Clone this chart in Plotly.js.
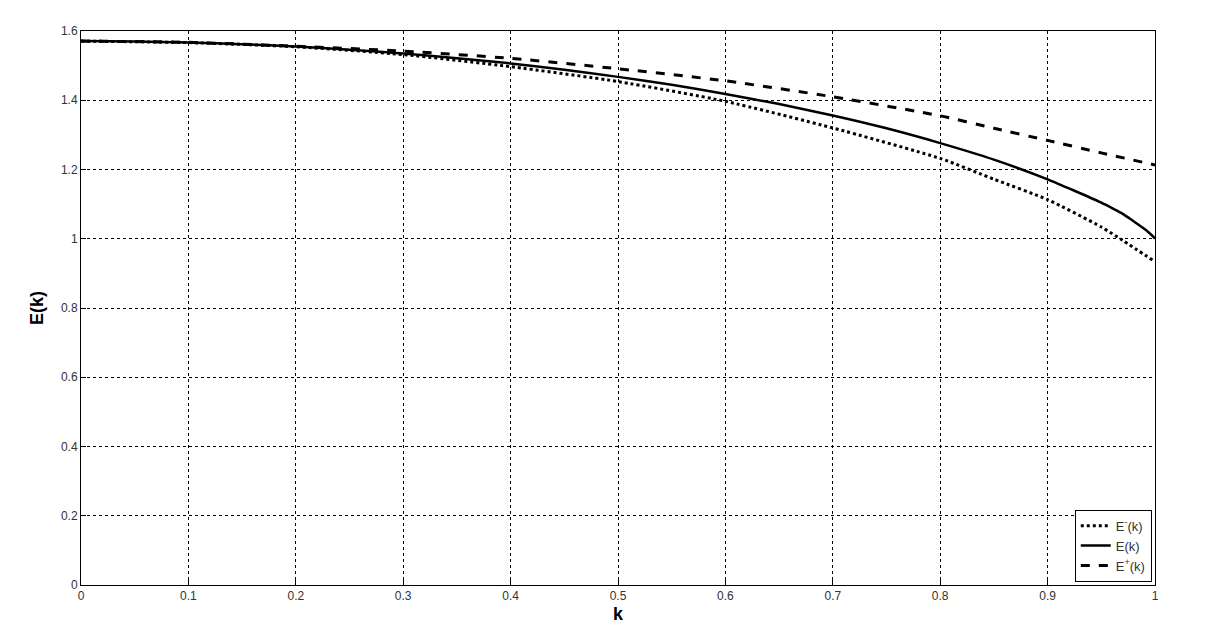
<!DOCTYPE html>
<html>
<head>
<meta charset="utf-8">
<script src="https://cdn.plot.ly/plotly-3.0.1.min.js"></script>
<style>html,body{margin:0;padding:0;background:#fff;}#chart{width:1215px;height:636px;}</style>
</head>
<body>
<div id="chart"></div>
<script>
// k values and series
const kE = [0, 0.05, 0.1, 0.15, 0.2, 0.25, 0.3, 0.35, 0.4, 0.45, 0.5, 0.55, 0.6, 0.65, 0.7, 0.75, 0.8, 0.85, 0.9, 0.925, 0.95, 0.96, 0.97, 0.98, 0.985, 0.99, 0.995, 0.999, 1.0];
const valE = [1.5708, 1.5698, 1.5669, 1.5619, 1.5550, 1.5460, 1.5348, 1.5216, 1.5064, 1.4884, 1.4675, 1.4445, 1.4181, 1.3889, 1.3561, 1.3190, 1.2763, 1.2286, 1.1717, 1.1386, 1.1040, 1.0883, 1.0719, 1.0506, 1.0400, 1.0286, 1.0160, 1.0040, 1.0000];

const kPlus = [0, 0.1, 0.2, 0.3, 0.4, 0.5, 0.6, 0.7, 0.8, 0.85, 0.9, 0.95, 1.0];
const valPlus = [1.5708, 1.5672, 1.5560, 1.5420, 1.5210, 1.4910, 1.4560, 1.4100, 1.3550, 1.3190, 1.2840, 1.2480, 1.2130];

const kMinus = [0, 0.1, 0.2, 0.3, 0.4, 0.5, 0.6, 0.7, 0.8, 0.85, 0.9, 0.95, 0.97, 1.0];
const valMinus = [1.5708, 1.5665, 1.5545, 1.5320, 1.4970, 1.4540, 1.3970, 1.3200, 1.2320, 1.1720, 1.1130, 1.0340, 0.9950, 0.9340];

const xTicks = [0, 0.1, 0.2, 0.3, 0.4, 0.5, 0.6, 0.7, 0.8, 0.9, 1];
const xTickText = ['0', '0.1', '0.2', '0.3', '0.4', '0.5', '0.6', '0.7', '0.8', '0.9', '1'];
const yTicks = [0, 0.2, 0.4, 0.6, 0.8, 1, 1.2, 1.4, 1.6];
const yTickText = ['0', '0.2', '0.4', '0.6', '0.8', '1', '1.2', '1.4', '1.6'];

const traces = [
  {x: kMinus, y: valMinus, mode: 'lines', name: 'E<sup>-</sup>(k)', line: {color: '#000', width: 3, dash: 'dot', shape: 'spline', smoothing: 0.6}},
  {x: kE, y: valE, mode: 'lines', name: 'E(k)', line: {color: '#000', width: 2.5, shape: 'spline', smoothing: 0.6}},
  {x: kPlus, y: valPlus, mode: 'lines', name: 'E<sup>+</sup>(k)', line: {color: '#000', width: 3, dash: 'dash', shape: 'spline', smoothing: 0.6}}
];

const axisCommon = {
  showline: true, linecolor: '#000', linewidth: 1, mirror: true,
  ticks: 'inside', ticklen: 5, tickcolor: '#000',
  showgrid: true, gridcolor: '#000', gridwidth: 1, griddash: '3px,3px',
  tickfont: {family: 'Liberation Sans, Arial, sans-serif', size: 12, color: '#333'},
  zeroline: false
};

const layout = {
  width: 1215, height: 636,
  margin: {l: 81, r: 60, t: 31, b: 51},
  paper_bgcolor: '#fff', plot_bgcolor: '#fff',
  showlegend: true,
  legend: {
    x: 0.997, y: 0.006, xanchor: 'right', yanchor: 'bottom',
    bgcolor: '#fff', bordercolor: '#000', borderwidth: 1,
    font: {family: 'Liberation Sans, Arial, sans-serif', size: 13, color: '#333'},
    tracegroupgap: 0, itemwidth: 30
  },
  xaxis: Object.assign({}, axisCommon, {
    range: [0, 1], tickvals: xTicks, ticktext: xTickText,
    title: {text: '<b>k</b>', font: {family: 'Liberation Sans, Arial, sans-serif', size: 18, color: '#000'}, standoff: 4}
  }),
  yaxis: Object.assign({}, axisCommon, {
    range: [0, 1.6], tickvals: yTicks, ticktext: yTickText,
    zeroline: true, zerolinecolor: '#000', zerolinewidth: 2,
    title: {text: '<b>E(k)</b>', font: {family: 'Liberation Sans, Arial, sans-serif', size: 18, color: '#000'}, standoff: 12}
  })
};

Plotly.newPlot('chart', traces, layout, {displayModeBar: false, staticPlot: true});
</script>
</body>
</html>
